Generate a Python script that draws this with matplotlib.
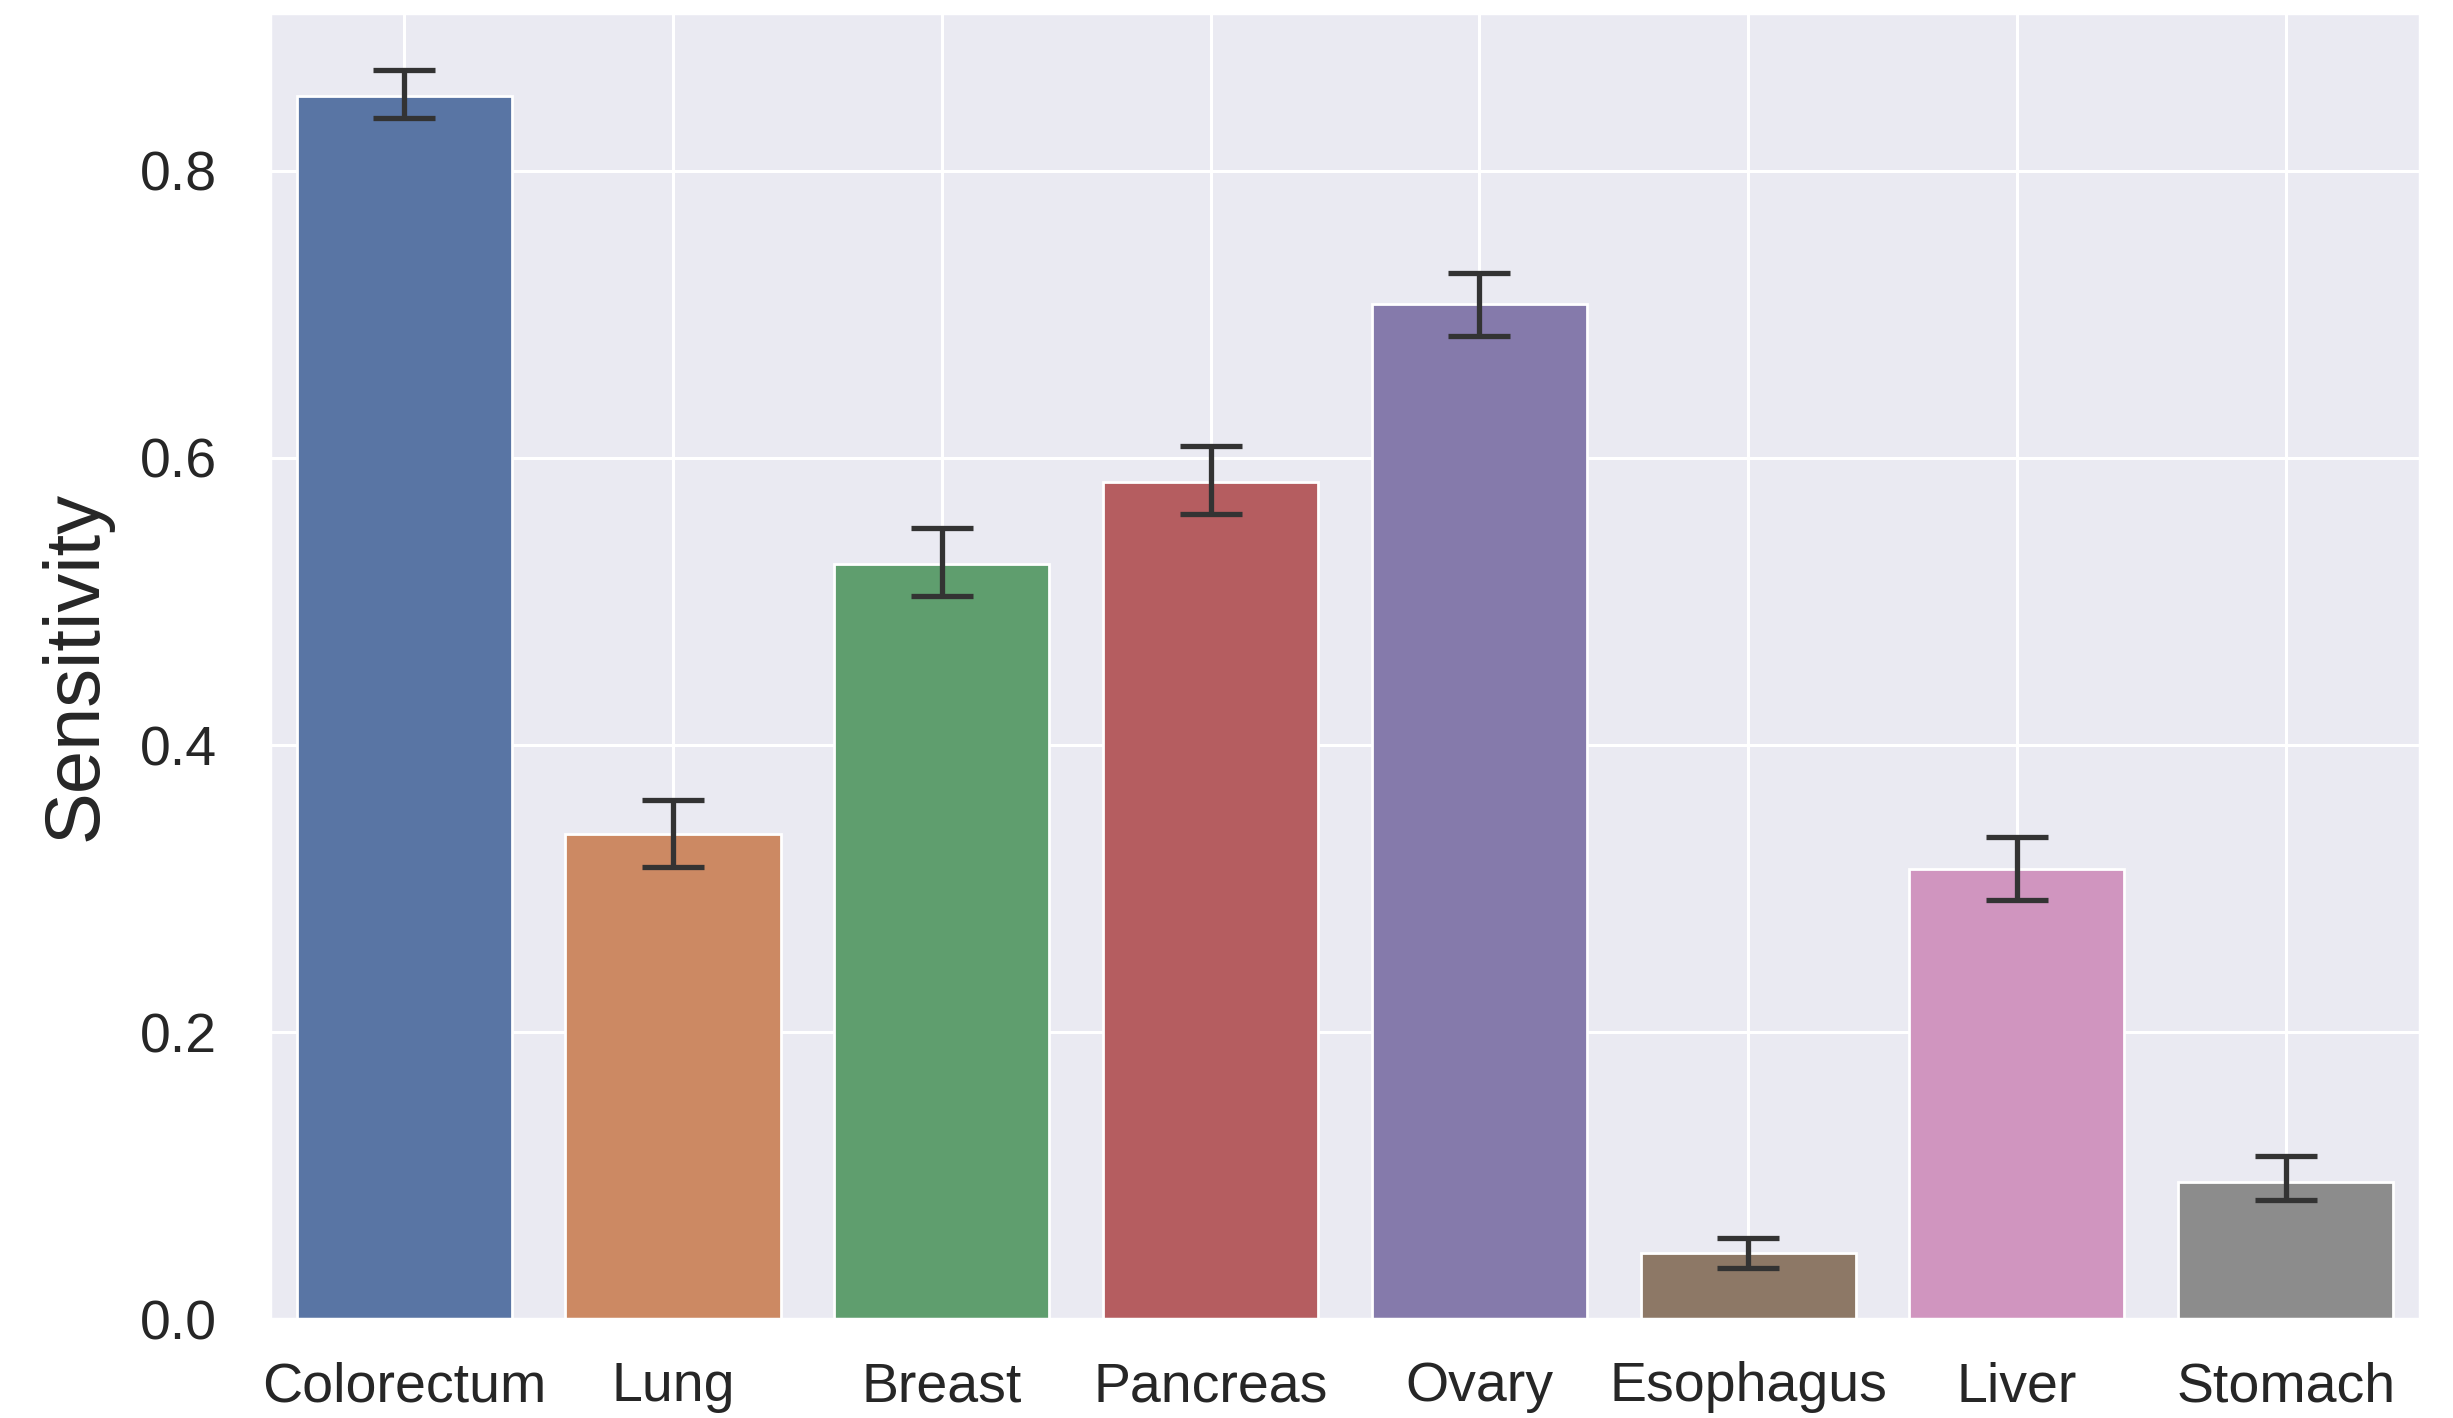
import numpy as np
import matplotlib
matplotlib.use("Agg")
import matplotlib.pyplot as plt
import seaborn as sns

# ---------------- data ----------------
cancers = ["Colorectum", "Lung", "Breast", "Pancreas", "Ovary", "Esophagus", "Liver", "Stomach"]
sensitivity = [0.852, 0.338, 0.526, 0.583, 0.707, 0.046, 0.314, 0.096]
ci_low = [0.837, 0.315, 0.504, 0.561, 0.685, 0.036, 0.292, 0.083]
ci_high = [0.870, 0.362, 0.551, 0.608, 0.729, 0.057, 0.336, 0.114]
yticks = [0.0, 0.2, 0.4, 0.6, 0.8]

# ---------------- styling ----------------
sns.set_theme(style="darkgrid")
plt.rcParams["font.family"] = ["Liberation Sans", "DejaVu Sans"]

colors = [sns.desaturate(c, 0.75) for c in sns.color_palette("deep", len(cancers))]

fig, ax = plt.subplots(figsize=(2453 / 200, 1418 / 200), dpi=200)
fig.subplots_adjust(left=0.110, right=0.9866, top=0.991, bottom=0.0695)

x = np.arange(len(cancers))
ax.bar(x, sensitivity, width=0.8, color=colors, edgecolor="white", linewidth=1.0)

vals = np.asarray(sensitivity)
yerr = np.vstack([vals - np.asarray(ci_low), np.asarray(ci_high) - vals])
ax.errorbar(x, vals, yerr=yerr, fmt="none", ecolor="#333333",
            elinewidth=1.9, capsize=11, capthick=1.9)

ax.set_xlim(-0.5, len(cancers) - 0.5)
ax.set_ylim(0, 0.91)
ax.set_xticks(x)
ax.set_xticklabels(cancers)
ax.set_yticks(yticks)
ax.set_yticklabels([f"{t:.1f}" for t in yticks])
ax.tick_params(axis="x", length=0, pad=15, labelsize=20, labelcolor="#262626")
ax.tick_params(axis="y", length=0, pad=19, labelsize=20, labelcolor="#262626")
ax.set_ylabel("Sensitivity", fontsize=28, labelpad=10, color="#262626")
ax.grid(True, color="white", linewidth=1.1)

fig.savefig("out.png", dpi=200)
